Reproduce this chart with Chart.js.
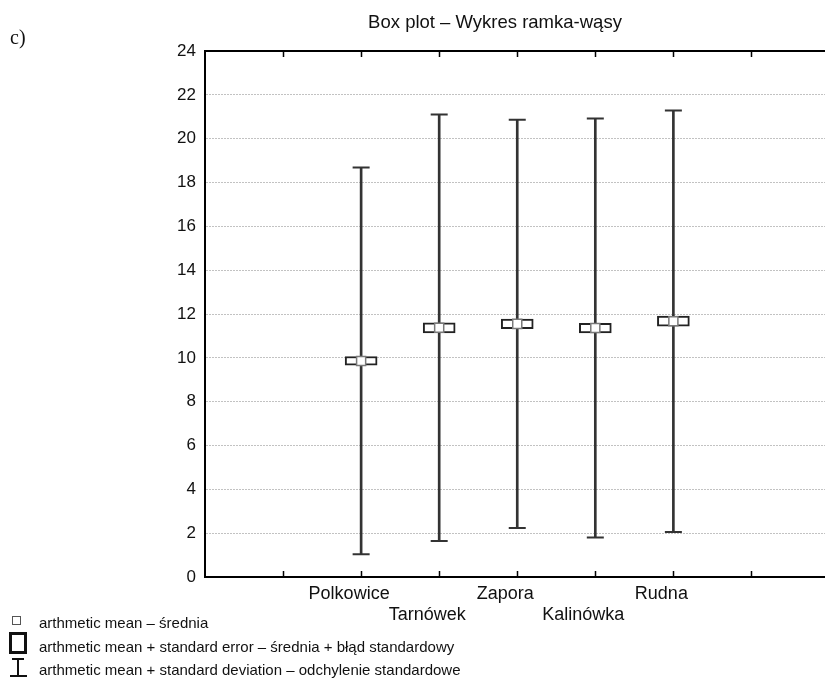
<!DOCTYPE html>
<html>
<head>
<meta charset="utf-8">
<script src="https://cdn.jsdelivr.net/npm/chart.js@4/dist/chart.umd.min.js"></script>
<style>
  html, body { margin: 0; padding: 0; background: #fff; overflow: hidden; }
  #page { position: relative; width: 825px; height: 678px; overflow: hidden; background: #fff; }
  #plot { position: absolute; left: 0; top: 0; }
  .txt { position: absolute; white-space: nowrap; color: #111;
         font-family: "Liberation Sans", Arial, sans-serif; }
  .sym { position: absolute; box-sizing: border-box; }
</style>
</head>
<body>
<div id="page">
  <canvas id="plot" width="840" height="678" style="width:840px;height:678px"></canvas>

  <div class="txt" style="left:10px;top:27px;font:20px 'Liberation Serif', 'Times New Roman', serif;line-height:20px;">c)</div>
  <div class="txt" id="title" style="left:495px;top:11px;font-size:18.5px;line-height:22px;transform:translateX(-50%);">Box plot – Wykres ramka-wąsy</div>

  <!-- key -->
  <div class="sym" style="left:12px;top:616px;width:9px;height:9px;border:1px solid #555;background:#fff;"></div>
  <div class="txt" style="left:39px;top:614px;font-size:15px;line-height:18px;">arthmetic mean – średnia</div>

  <div class="sym" style="left:9px;top:632px;width:18px;height:22px;border:3px solid #111;background:#fff;"></div>
  <div class="txt" style="left:39px;top:638px;font-size:15px;line-height:18px;">arthmetic mean + standard error – średnia + błąd standardowy</div>

  <div class="sym" style="left:12px;top:658px;width:12px;height:2px;background:#111;"></div>
  <div class="sym" style="left:17px;top:658px;width:2px;height:19px;background:#111;"></div>
  <div class="sym" style="left:10px;top:675px;width:17px;height:2px;background:#111;"></div>
  <div class="txt" style="left:39px;top:661px;font-size:15px;line-height:18px;">arthmetic mean + standard deviation – odchylenie standardowe</div>
</div>

<script>
// Sampling sites and their summary statistics
const categories = ['Polkowice', 'Tarnówek', 'Zapora', 'Kalinówka', 'Rudna'];
const means      = [9.86, 11.37, 11.55, 11.36, 11.67];
const stdErrors  = [0.20, 0.23, 0.22, 0.22, 0.23];
const stdDevs    = [8.82, 9.73, 9.31, 9.56, 9.62];

// Value axis
const yMin = 0, yMax = 24, yStep = 2;
// Horizontal slots: 0..8, sites occupy slots 2..6
const xMin = 0, xMax = 8, firstSlot = 2;

const slot = i => i + firstSlot;

const whiskerData = categories.map((c, i) => ({ x: slot(i), y: [means[i] - stdDevs[i], means[i] + stdDevs[i]] }));
const capData = categories.flatMap((c, i) => [
  { x: slot(i), y: means[i] - stdDevs[i] },
  { x: slot(i), y: means[i] + stdDevs[i] }
]);
const seData = categories.map((c, i) => ({ x: slot(i), y: [means[i] - stdErrors[i], means[i] + stdErrors[i]] }));
const meanData = categories.map((c, i) => ({ x: slot(i), y: means[i] }));

// Inward tick marks on the bottom axis and a top frame line with its own ticks
const frameTicks = {
  id: 'frameTicks',
  afterDraw(chart) {
    const { ctx, chartArea: a, scales: { x } } = chart;
    ctx.save();
    ctx.strokeStyle = '#000';
    ctx.lineWidth = 2;
    ctx.beginPath();
    ctx.moveTo(a.left - 1, a.top);
    ctx.lineTo(a.right, a.top);
    ctx.stroke();
    ctx.lineWidth = 1.5;
    x.ticks.forEach(t => {
      const px = Math.round(x.getPixelForValue(t.value)) + 0.5;
      if (t.value === xMin) return;
      ctx.beginPath();
      ctx.moveTo(px, a.top);
      ctx.lineTo(px, a.top + 6);
      ctx.moveTo(px, a.bottom);
      ctx.lineTo(px, a.bottom - 6);
      ctx.stroke();
    });
    ctx.restore();
  }
};

const fontFamily = "'Liberation Sans', Arial, sans-serif";

new Chart(document.getElementById('plot'), {
  type: 'bar',
  data: {
    datasets: [
      {
        type: 'scatter',
        label: 'mean',
        data: meanData,
        pointStyle: 'rect',
        pointRadius: 6.4,
        pointBackgroundColor: '#fff',
        pointBorderColor: '#7a7a7a',
        pointBorderWidth: 1.5,
        order: 0
      },
      {
        label: 'mean ± SE',
        data: seData,
        backgroundColor: '#fff',
        borderColor: '#222',
        borderWidth: 2,
        borderSkipped: false,
        barThickness: 32,
        grouped: false,
        order: 1
      },
      {
        type: 'scatter',
        label: 'SD caps',
        data: capData,
        pointStyle: 'line',
        pointRadius: 8.5,
        pointBorderColor: '#333',
        pointBorderWidth: 2,
        order: 2
      },
      {
        label: 'mean ± SD',
        data: whiskerData,
        backgroundColor: '#333',
        borderWidth: 0,
        barThickness: 2,
        grouped: false,
        order: 3
      }
    ]
  },
  options: {
    responsive: false,
    devicePixelRatio: 1,
    animation: false,
    events: [],
    layout: { padding: { left: 0, top: 51, right: 10, bottom: 0 } },
    plugins: { legend: { display: false }, tooltip: { enabled: false }, title: { display: false } },
    scales: {
      x: {
        type: 'linear',
        min: xMin,
        max: xMax,
        offset: false,
        grid: { display: false, offset: false },
        border: { display: true, color: '#000', width: 2 },
        ticks: {
          stepSize: 1,
          autoSkip: false,
          maxRotation: 0,
          padding: -2,
          labelOffset: -12,
          color: '#111',
          font: { family: fontFamily, size: 18, lineHeight: 1.2 },
          callback: v => {
            const i = v - firstSlot;
            if (i < 0 || i >= categories.length) return '';
            return i % 2 === 1 ? ['', categories[i]] : categories[i];
          }
        },
        afterFit: s => { s.height = 101; }
      },
      y: {
        min: yMin,
        max: yMax,
        grid: { color: '#c2c2c2', lineWidth: 1, drawTicks: false },
        border: { display: true, color: '#000', width: 2, dash: [2, 1] },
        ticks: { stepSize: yStep, padding: 9, color: '#111', font: { family: fontFamily, size: 17 } },
        afterFit: s => { s.width = 205; }
      }
    }
  },
  plugins: [frameTicks]
});
</script>
</body>
</html>
